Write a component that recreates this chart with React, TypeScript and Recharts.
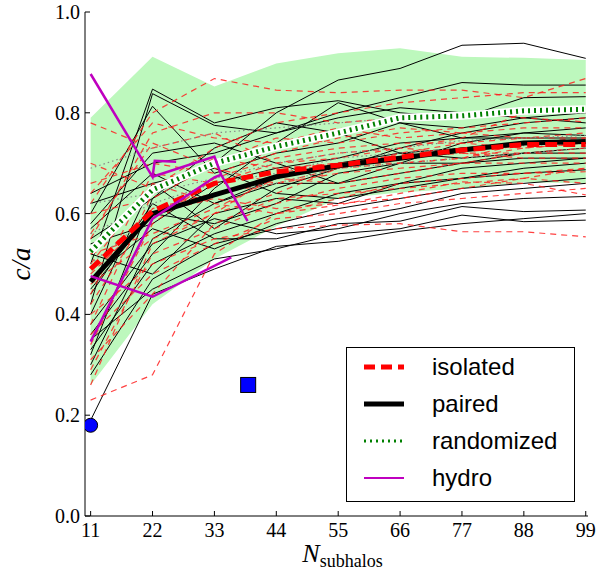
import React from "react";
import {
  Area, ComposedChart, Label, Legend, Line, Scatter, XAxis, YAxis,
} from "recharts";

// x positions of every halo curve
const N_SUBHALOS = [11, 22, 33, 44, 55, 66, 77, 88, 99];
const Y_TICKS = [0, 0.2, 0.4, 0.6, 0.8, 1.0];

// shaded band (randomized spread)
const BAND_LO = [0.26, 0.42, 0.51, 0.575, 0.63, 0.642, 0.65, 0.662, 0.66];
const BAND_HI = [0.79, 0.911, 0.852, 0.898, 0.918, 0.928, 0.911, 0.909, 0.905];

// mean curves
const ISOLATED = [0.49, 0.605, 0.66, 0.683, 0.696, 0.712, 0.726, 0.737, 0.737];
const PAIRED = [0.465, 0.6, 0.637, 0.673, 0.695, 0.71, 0.726, 0.74, 0.743];
const RANDOMIZED = [0.525, 0.647, 0.7, 0.733, 0.76, 0.79, 0.794, 0.804, 0.807];

// individual paired halos (thin black)
const PAIRED_HALOS = [
  [0.19, 0.44, 0.49, 0.535, 0.545, 0.565, 0.58, 0.59, 0.6],
  [0.55, 0.63, 0.7, 0.8, 0.865, 0.888, 0.934, 0.938, 0.908],
  [0.5, 0.847, 0.78, 0.81, 0.824, 0.8, 0.79, 0.83, 0.832],
  [0.42, 0.838, 0.775, 0.76, 0.8, 0.83, 0.86, 0.855, 0.855],
  [0.6, 0.813, 0.68, 0.72, 0.74, 0.78, 0.77, 0.79, 0.8],
  [0.62, 0.66, 0.57, 0.65, 0.69, 0.73, 0.76, 0.78, 0.79],
  [0.58, 0.72, 0.74, 0.7, 0.66, 0.7, 0.74, 0.76, 0.77],
  [0.36, 0.52, 0.65, 0.74, 0.82, 0.78, 0.75, 0.76, 0.755],
  [0.3, 0.55, 0.62, 0.67, 0.7, 0.72, 0.73, 0.74, 0.74],
  [0.45, 0.6, 0.58, 0.62, 0.68, 0.7, 0.7, 0.72, 0.72],
  [0.52, 0.48, 0.6, 0.63, 0.62, 0.66, 0.69, 0.7, 0.71],
  [0.4, 0.66, 0.69, 0.64, 0.63, 0.65, 0.67, 0.69, 0.7],
  [0.33, 0.5, 0.56, 0.6, 0.64, 0.66, 0.67, 0.68, 0.687],
  [0.47, 0.57, 0.53, 0.58, 0.61, 0.63, 0.65, 0.66, 0.67],
  [0.28, 0.47, 0.54, 0.57, 0.59, 0.61, 0.64, 0.65, 0.66],
  [0.38, 0.54, 0.59, 0.56, 0.57, 0.6, 0.62, 0.63, 0.634],
  [0.44, 0.62, 0.55, 0.55, 0.58, 0.585, 0.614, 0.604, 0.607],
  [0.35, 0.45, 0.51, 0.53, 0.56, 0.57, 0.597, 0.584, 0.587],
  [0.64, 0.7, 0.72, 0.76, 0.79, 0.81, 0.8, 0.79, 0.78],
  [0.54, 0.58, 0.66, 0.69, 0.71, 0.74, 0.75, 0.75, 0.75],
  [0.32, 0.63, 0.73, 0.78, 0.76, 0.72, 0.71, 0.72, 0.73],
  [0.57, 0.68, 0.62, 0.66, 0.66, 0.68, 0.7, 0.71, 0.71],
];

// individual isolated halos (thin red dashed)
const ISOLATED_HALOS = [
  [0.23, 0.28, 0.52, 0.6, 0.63, 0.66, 0.67, 0.68, 0.69],
  [0.62, 0.8, 0.868, 0.845, 0.84, 0.845, 0.845, 0.83, 0.868],
  [0.4, 0.5, 0.55, 0.57, 0.577, 0.58, 0.564, 0.564, 0.554],
  [0.78, 0.73, 0.76, 0.7, 0.72, 0.73, 0.75, 0.8, 0.812],
  [0.5, 0.66, 0.62, 0.6, 0.617, 0.64, 0.663, 0.66, 0.637],
  [0.55, 0.76, 0.8, 0.8, 0.78, 0.79, 0.8, 0.79, 0.782],
  [0.46, 0.55, 0.6, 0.64, 0.69, 0.72, 0.74, 0.75, 0.76],
  [0.34, 0.58, 0.67, 0.71, 0.73, 0.74, 0.74, 0.73, 0.74],
  [0.6, 0.63, 0.7, 0.75, 0.74, 0.76, 0.77, 0.78, 0.79],
  [0.42, 0.61, 0.64, 0.66, 0.68, 0.69, 0.7, 0.7, 0.7],
  [0.66, 0.7, 0.68, 0.72, 0.75, 0.77, 0.76, 0.77, 0.77],
  [0.29, 0.52, 0.57, 0.62, 0.65, 0.67, 0.68, 0.68, 0.683],
  [0.38, 0.64, 0.71, 0.69, 0.7, 0.71, 0.72, 0.72, 0.72],
  [0.52, 0.56, 0.61, 0.67, 0.66, 0.68, 0.7, 0.72, 0.73],
  [0.7, 0.65, 0.73, 0.78, 0.8, 0.82, 0.83, 0.84, 0.84],
  [0.31, 0.44, 0.58, 0.63, 0.64, 0.65, 0.66, 0.67, 0.66],
  [0.56, 0.74, 0.69, 0.66, 0.69, 0.7, 0.71, 0.73, 0.74],
  [0.48, 0.6, 0.63, 0.61, 0.62, 0.63, 0.65, 0.67, 0.69],
  [0.36, 0.48, 0.54, 0.59, 0.6, 0.62, 0.63, 0.64, 0.65],
  [0.64, 0.78, 0.75, 0.74, 0.77, 0.75, 0.76, 0.75, 0.75],
  [0.44, 0.68, 0.66, 0.7, 0.71, 0.73, 0.72, 0.71, 0.71],
  [0.26, 0.54, 0.6, 0.68, 0.7, 0.7, 0.71, 0.74, 0.75],
];

// a few randomized realisations (thin grey dotted)
const RANDOM_HALOS = [
  [0.69, 0.73, 0.76, 0.77, 0.78, 0.79, 0.79, 0.8, 0.8],
  [0.62, 0.64, 0.67, 0.7, 0.72, 0.73, 0.745, 0.75, 0.755],
  [0.56, 0.62, 0.66, 0.68, 0.71, 0.72, 0.73, 0.735, 0.74],
  [0.5, 0.6, 0.64, 0.66, 0.69, 0.7, 0.71, 0.72, 0.73],
];

// hydro runs, irregular N
const HYDRO_N = [
  [11, 22, 22.4, 26.2],
  [22, 33, 34.2, 38.9],
  [11, 22, 33, 34.2],
  [11, 22, 36],
];
const HYDRO_CA = [
  [0.877, 0.673, 0.705, 0.703],
  [0.673, 0.713, 0.677, 0.585],
  [0.346, 0.59, 0.672, 0.677],
  [0.476, 0.435, 0.513],
];

const OBS_CIRCLE = [{ n: 11, ca: 0.18 }];
const OBS_SQUARE = [{ n: 39, ca: 0.26 }];

const LEGEND_ITEMS = ["isolated", "paired", "randomized", "hydro"];

const rows = N_SUBHALOS.map((n, i) => {
  const row: Record<string, any> = {
    n,
    band: [BAND_LO[i], BAND_HI[i]],
    isolated: ISOLATED[i],
    paired: PAIRED[i],
    randomized: RANDOMIZED[i],
  };
  PAIRED_HALOS.forEach((l, j) => (row["p" + j] = l[i]));
  ISOLATED_HALOS.forEach((l, j) => (row["i" + j] = l[i]));
  RANDOM_HALOS.forEach((l, j) => (row["r" + j] = l[i]));
  return row;
});

const hydro = HYDRO_N.map((ns, k) => ns.map((n, i) => ({ n, ca: HYDRO_CA[k][i] })));

const SERIF = "'Liberation Serif', 'Times New Roman', serif";
const SANS = "'Liberation Sans', Arial, sans-serif";
const XDOM: [number, number] = [10, 99.4];

const BottomTick = ({ x, y, payload }: any) => (
  <g>
    <line x1={x} y1={y} x2={x} y2={y - 5} stroke="#000" />
    <text x={x} y={y + 21} textAnchor="middle" fontFamily={SERIF} fontSize={20} fill="#000">
      {payload.value}
    </text>
  </g>
);
const TopTick = ({ x, y }: any) => <line x1={x} y1={y} x2={x} y2={y + 5} stroke="#000" />;
const LeftTick = ({ x, y, payload }: any) => (
  <g>
    <line x1={x} y1={y} x2={x + 5} y2={y} stroke="#000" />
    <text x={x - 5} y={y + 7} textAnchor="end" fontFamily={SERIF} fontSize={20} fill="#000">
      {payload.value.toFixed(1)}
    </text>
  </g>
);
const RightTick = ({ x, y }: any) => <line x1={x} y1={y} x2={x - 5} y2={y} stroke="#000" />;

function LegendBox() {
  const sample = (k: number) => {
    if (k === 0) return <line x1={2} y1={8} x2={42} y2={8} stroke="#f00" strokeWidth={5} strokeDasharray="11 6" />;
    if (k === 1) return <line x1={2} y1={8} x2={42} y2={8} stroke="#000" strokeWidth={5} />;
    if (k === 2) return <line x1={2} y1={8} x2={42} y2={8} stroke="#008000" strokeWidth={3} strokeDasharray="2 4" />;
    return <line x1={2} y1={8} x2={42} y2={8} stroke="#bf00bf" strokeWidth={2} />;
  };
  return (
    <div style={{ border: "1.5px solid #000", background: "#fff", width: 229, height: 155, boxSizing: "border-box", paddingTop: 0 }}>
      {LEGEND_ITEMS.map((name, k) => (
        <div key={name} style={{ display: "flex", alignItems: "center", height: 37 }}>
          <svg width={44} height={16} style={{ marginLeft: 15 }}>{sample(k)}</svg>
          <span style={{ marginLeft: 26, fontFamily: SANS, fontSize: 24, lineHeight: "24px" }}>{name}</span>
        </div>
      ))}
    </div>
  );
}

export default function App() {
  return (
    <div style={{ position: "absolute", left: 0, top: 0, background: "#fff" }}>
      <ComposedChart width={597} height={573} data={rows} margin={{ top: 12, right: 9, left: 0, bottom: 0 }}>
        <XAxis
          dataKey="n" type="number" domain={XDOM} allowDataOverflow ticks={N_SUBHALOS}
          height={57} tickSize={0} tickMargin={0} tick={<BottomTick />} axisLine={{ stroke: "#000" }}
        >
          <Label
            content={({ viewBox }: any) => (
              <text x={viewBox.x + viewBox.width / 2 + 6} y={viewBox.y + 46} textAnchor="middle" fontFamily={SERIF} fill="#000">
                <tspan fontSize={26} fontStyle="italic">N</tspan>
                <tspan fontSize={18} dy={5}>subhalos</tspan>
              </text>
            )}
          />
        </XAxis>
        <XAxis
          xAxisId="top" orientation="top" dataKey="n" type="number" domain={XDOM} allowDataOverflow
          ticks={N_SUBHALOS} height={0} tickSize={0} tickMargin={0} tick={<TopTick />} axisLine={{ stroke: "#000" }}
        />
        <YAxis
          type="number" domain={[0, 1]} ticks={Y_TICKS} width={85} tickSize={0} tickMargin={0}
          tick={<LeftTick />} axisLine={{ stroke: "#000" }}
        >
          <Label
            content={({ viewBox }: any) => (
              <text
                x={30} y={viewBox.y + viewBox.height / 2} textAnchor="middle" fontFamily={SERIF}
                fontSize={27} fontStyle="italic" fill="#000"
                transform={`rotate(-90 30 ${viewBox.y + viewBox.height / 2})`}
              >
                c/a
              </text>
            )}
          />
        </YAxis>
        <YAxis
          yAxisId="right" orientation="right" type="number" domain={[0, 1]} ticks={Y_TICKS} width={0}
          tickSize={0} tickMargin={0} tick={<RightTick />} axisLine={{ stroke: "#000" }}
        />

        <Area dataKey="band" stroke="none" fill="#bdf8bd" fillOpacity={1} isAnimationActive={false} />

        {PAIRED_HALOS.map((_, j) => (
          <Line key={"p" + j} dataKey={"p" + j} stroke="#000" strokeWidth={1} dot={false} isAnimationActive={false} />
        ))}
        {ISOLATED_HALOS.map((_, j) => (
          <Line key={"i" + j} dataKey={"i" + j} stroke="#ff2020" strokeOpacity={0.85} strokeWidth={1.2}
            strokeDasharray="6 5" dot={false} isAnimationActive={false} />
        ))}
        {RANDOM_HALOS.map((_, j) => (
          <Line key={"r" + j} dataKey={"r" + j} stroke="#888" strokeWidth={1.2} strokeDasharray="1.5 3"
            dot={false} isAnimationActive={false} />
        ))}

        <Line dataKey="randomized" stroke="#fff" strokeWidth={8} dot={false} isAnimationActive={false} />
        <Line dataKey="randomized" stroke="#008000" strokeWidth={5} strokeDasharray="2 4" dot={false} isAnimationActive={false} />
        <Line dataKey="paired" stroke="#000" strokeWidth={5} dot={false} isAnimationActive={false} />
        <Line dataKey="isolated" stroke="#f00" strokeWidth={5} strokeDasharray="12 6" dot={false} isAnimationActive={false} />

        {hydro.map((d, k) => (
          <Line key={"h" + k} data={d} dataKey="ca" stroke="#bf00bf" strokeWidth={2.5} dot={false} isAnimationActive={false} />
        ))}

        <Scatter data={OBS_CIRCLE} dataKey="ca" isAnimationActive={false}
          shape={(p: any) => <circle cx={p.cx} cy={p.cy} r={7} fill="#0000ff" stroke="#000" strokeWidth={1} />} />
        <Scatter data={OBS_SQUARE} dataKey="ca" isAnimationActive={false}
          shape={(p: any) => <rect x={p.cx - 7.5} y={p.cy - 7.5} width={15} height={15} fill="#0000ff" stroke="#000" strokeWidth={1} />} />

        <Legend
          layout="vertical" align="center" verticalAlign="middle"
          wrapperStyle={{ left: 346, top: 347, width: 229 }}
          content={() => <LegendBox />}
        />
      </ComposedChart>
    </div>
  );
}
